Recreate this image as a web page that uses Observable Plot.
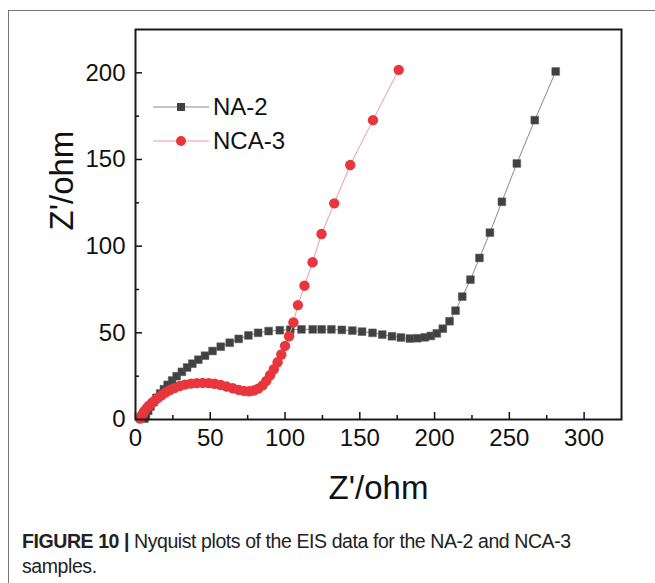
<!DOCTYPE html>
<html>
<head>
<meta charset="utf-8">
<script src="https://cdn.jsdelivr.net/npm/d3@7"></script>
<script src="https://cdn.jsdelivr.net/npm/@observablehq/plot@0.6"></script>
<style>
  html, body { margin: 0; padding: 0; background: #fff; }
  #wrap { position: relative; width: 655px; height: 583px; overflow: hidden; font-family: "Liberation Sans", Arial, sans-serif; }
  #frameTop { position: absolute; left: 8px; top: 10px; width: 647px; height: 1px; background: #777; }
  #frameLeft { position: absolute; left: 8px; top: 10px; width: 1px; height: 573px; background: #777; }
  #chart { position: absolute; left: 0; top: 0; }
  #legend { position: absolute; left: 0; top: 0; pointer-events: none; }
  #caption { position: absolute; left: 22px; top: 529px; width: 630px; font-size: 19.5px; line-height: 25px; color: #222; letter-spacing: -0.42px; white-space: nowrap; }
  #caption b { font-weight: bold; }
</style>
</head>
<body>
<div id="wrap">
  <div id="frameTop"></div>
  <div id="frameLeft"></div>
  <div id="chart"></div>
  <svg id="legend" width="655" height="583"></svg>
  <div id="caption"><b>FIGURE 10 |</b> Nyquist plots of the EIS data for the NA-2 and NCA-3<br>samples.</div>
</div>
<script>
// Series names
const seriesNames = ["NA-2", "NCA-3"];

// NA-2 (Z', -Z'')
const naX = [6,7,8.5,10,12,14,16.5,19,21.5,24.5,27.5,31,34.5,38,42,46.5,51.5,57,63,69,75.5,82,89,96.5,103.5,111,118.5,124.5,131,138,145,151.5,158.5,165,171.5,177.5,183.5,188.5,193.5,197.5,201.5,205.5,210,214,218.5,224,230,237,245,255,267,281];
const naY = [0.5,2.5,5,7.5,10,12.5,15,17.5,20,22.5,25,27.5,30,32.2,34.5,36.8,39.5,42,44.3,46.5,48.5,50,51,51.5,51.8,52,52,52,52,51.7,51.3,50.7,50,49,48,47.3,46.7,46.9,47.4,48.2,49.7,52.4,56.7,62.8,70.9,80.7,93.2,107.8,125.6,147.7,172.7,200.8];

// NCA-3 (Z', -Z'')
const ncaX = [3,4,5,6,7.5,9,11,13,15,17.5,20,23,26,29.5,33,37,41,45,49,53,57,61,65,69,72.5,76,79,82,85,87.5,90,92.5,95,97.5,100,102.7,105.6,108.6,113,118.4,124.4,132.9,143.6,158.8,176];
const ncaY = [0.5,2,3.5,5,6.5,8,9.5,11,12.5,14,15.5,17,18.2,19.3,20.1,20.7,21,21.1,21,20.6,19.9,19,18,17.1,16.5,16.3,16.7,17.8,19.7,22.3,25.5,29,33,37.5,42.5,48,56,66,77.2,90.7,107,124.7,146.8,172.7,201.7];

// Axis ticks
const xTicks = [0,50,100,150,200,250,300];
const xMinor = [25,75,125,175,225,275];
const yTicks = [0,50,100,150,200];
const yMinor = [25,75,125,175];
const xLabel = "Z'/ohm";
const yLabel = "Z'/ohm";

const na = naX.map((x, i) => ({x, y: naY[i]}));
const nca = ncaX.map((x, i) => ({x, y: ncaY[i]}));

const colNA = "#414141", colNAline = "#8a8a8a";
const colNCA = "#e8363c", colNCAline = "#f39a9a";

const chart = Plot.plot({
  width: 655,
  height: 583,
  marginLeft: 135,
  marginRight: 34,
  marginTop: 29,
  marginBottom: 164,
  style: {fontFamily: "'Liberation Sans', Arial, sans-serif", background: "transparent", color: "#111"},
  x: {domain: [0, 325]},
  y: {domain: [0, 225]},
  marks: [
    Plot.axisX({ticks: xTicks, tickSize: -7, tickPadding: 16, fontSize: 24, label: null, strokeWidth: 1.5}),
    Plot.axisX({ticks: xMinor, tickSize: -4, text: null, label: null, strokeWidth: 1.5}),
    Plot.axisY({ticks: yTicks, tickSize: -7, tickPadding: 17, fontSize: 24, label: null, strokeWidth: 1.5}),
    Plot.axisY({ticks: yMinor, tickSize: -4, text: null, label: null, strokeWidth: 1.5}),
    Plot.line(na, {x: "x", y: "y", stroke: colNAline, strokeWidth: 1}),
    Plot.dot(na, {x: "x", y: "y", symbol: "square", r: 4.4, fill: colNA, stroke: "#5a5a5a", strokeWidth: 0.5}),
    Plot.line(nca, {x: "x", y: "y", stroke: colNCAline, strokeWidth: 1}),
    Plot.dot(nca, {x: "x", y: "y", r: 5.2, fill: colNCA}),
    Plot.frame({stroke: "#1a1a1a", strokeWidth: 2}),
    Plot.text([xLabel], {frameAnchor: "bottom", dy: 79, lineAnchor: "bottom", fontSize: 33, fill: "#111"}),
    Plot.text([yLabel], {frameAnchor: "left", dx: -73, dy: 6, rotate: -90, fontSize: 33, fill: "#111"})
  ]
});
document.getElementById("chart").appendChild(chart);

// Legend
const lg = d3.select("#legend");
const items = [
  {name: seriesNames[0], y: 107, line: colNAline, sym: "square", fill: colNA},
  {name: seriesNames[1], y: 141, line: colNCAline, sym: "circle", fill: colNCA}
];
items.forEach(it => {
  lg.append("line").attr("x1", 153).attr("x2", 209).attr("y1", it.y).attr("y2", it.y)
    .attr("stroke", it.line).attr("stroke-width", 1);
  if (it.sym === "square") {
    lg.append("rect").attr("x", 177).attr("y", it.y - 4).attr("width", 8).attr("height", 8).attr("fill", it.fill);
  } else {
    lg.append("circle").attr("cx", 181).attr("cy", it.y).attr("r", 5).attr("fill", it.fill);
  }
  lg.append("text").attr("x", 213).attr("y", it.y).attr("dy", "0.35em")
    .attr("font-size", 24).attr("font-family", "'Liberation Sans', Arial, sans-serif")
    .attr("fill", "#111").text(it.name);
});
</script>
</body>
</html>
